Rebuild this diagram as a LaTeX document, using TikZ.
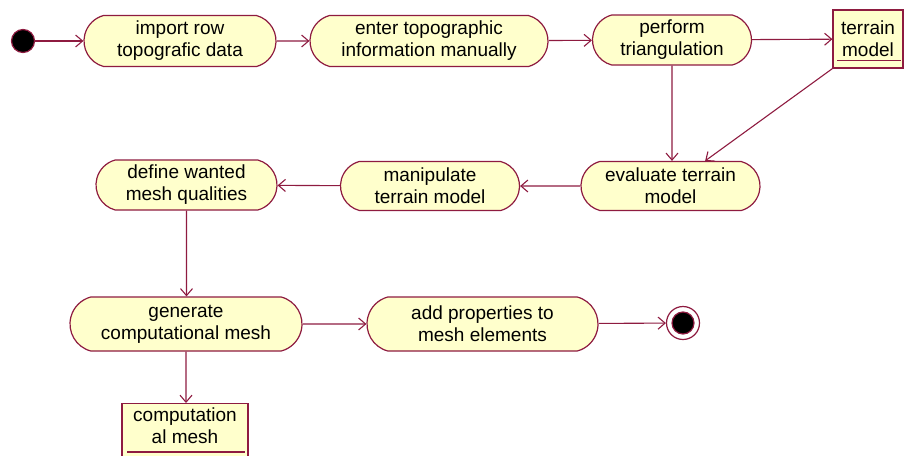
\documentclass[tikz,border=0pt]{standalone}
\usepackage{fontspec}
\setmainfont{Liberation Sans}
\usetikzlibrary{shapes.misc,arrows.meta}
\definecolor{umlline}{HTML}{8E1B40}
\definecolor{umlfill}{HTML}{FFFFCC}
\tikzset{
  act/.style={rounded rectangle, rounded rectangle arc length=150, draw=umlline, fill=umlfill, line width=1.2pt, align=center, inner sep=0pt, minimum height=51, font=\fontsize{19}{22}\selectfont},
  obj/.style={rectangle, draw=umlline, fill=umlfill, line width=1.2pt, align=center, inner sep=0pt, font=\fontsize{19}{22}\selectfont},
  flow/.style={draw=umlline, line width=1.1pt, -{Straight Barb[length=7pt,width=12pt,line width=1.1pt]}},
}
\begin{document}
\begin{tikzpicture}[x=1pt,y=-1pt]
\useasboundingbox (0,0) rectangle (904,455);
\node[circle, fill=black, draw=umlline, line width=1.2pt, minimum size=23, inner sep=0pt] (start) at (23,41) {};
\node[act, minimum width=192] (imp) at (180,41) {import row\\topografic data};
\node[act, minimum width=238] (ent) at (429,41) {enter topographic\\information manually};
\node[act, minimum width=159, minimum height=50] (tri) at (672,40) {perform\\triangulation};
\node[obj, minimum width=70, minimum height=58] (tm) at (868,39) {terrain\\model};
\draw[umlline, line width=1.2pt] ([xshift=5,yshift=8]tm.south west) -- ([xshift=-3,yshift=8]tm.south east);
\node[act, minimum width=179, minimum height=49] (ev) at (670.5,186) {evaluate terrain\\model};
\node[act, minimum width=179, minimum height=49] (man) at (430,186) {manipulate\\terrain model};
\node[act, minimum width=181, minimum height=50] (def) at (186.5,185) {define wanted\\mesh qualities};
\node[act, minimum width=232, minimum height=54] (gen) at (186,324) {generate\\computational mesh};
\node[act, minimum width=231, minimum height=54] (add) at (482.5,324) {add properties to\\mesh elements};
\node[circle, draw=umlline, line width=1.2pt, fill=white, minimum size=33, inner sep=0pt] (end) at (683,323) {};
\node[circle, fill=black, draw=umlline, line width=1.2pt, minimum size=22, inner sep=0pt] at (end) {};
\node[obj, minimum width=126, minimum height=62, anchor=north] (cm) at (185,403) {};
\node[font=\fontsize{19}{22}\selectfont, align=center, anchor=north, inner sep=0pt] (cmtext) at (185,408) {computation\\al mesh};
\draw[umlline, line width=1.2pt] (127,452) -- (245,452);
\draw[flow] (start) -- (imp);
\draw[flow] (imp) -- (ent);
\draw[flow] (ent) -- (tri);
\draw[flow] (tri) -- (tm);
\draw[flow] (tri) -- (tri |- ev.north);
\draw[flow] (tm.south west) -- (ev);
\draw[flow] (ev) -- (man);
\draw[flow] (man) -- (def);
\draw[flow] (def) -- (def |- gen.north);
\draw[flow] (gen) -- (gen |- cm.north);
\draw[flow] (gen) -- (add);
\draw[flow] (add) -- (end);
\end{tikzpicture}
\end{document}
